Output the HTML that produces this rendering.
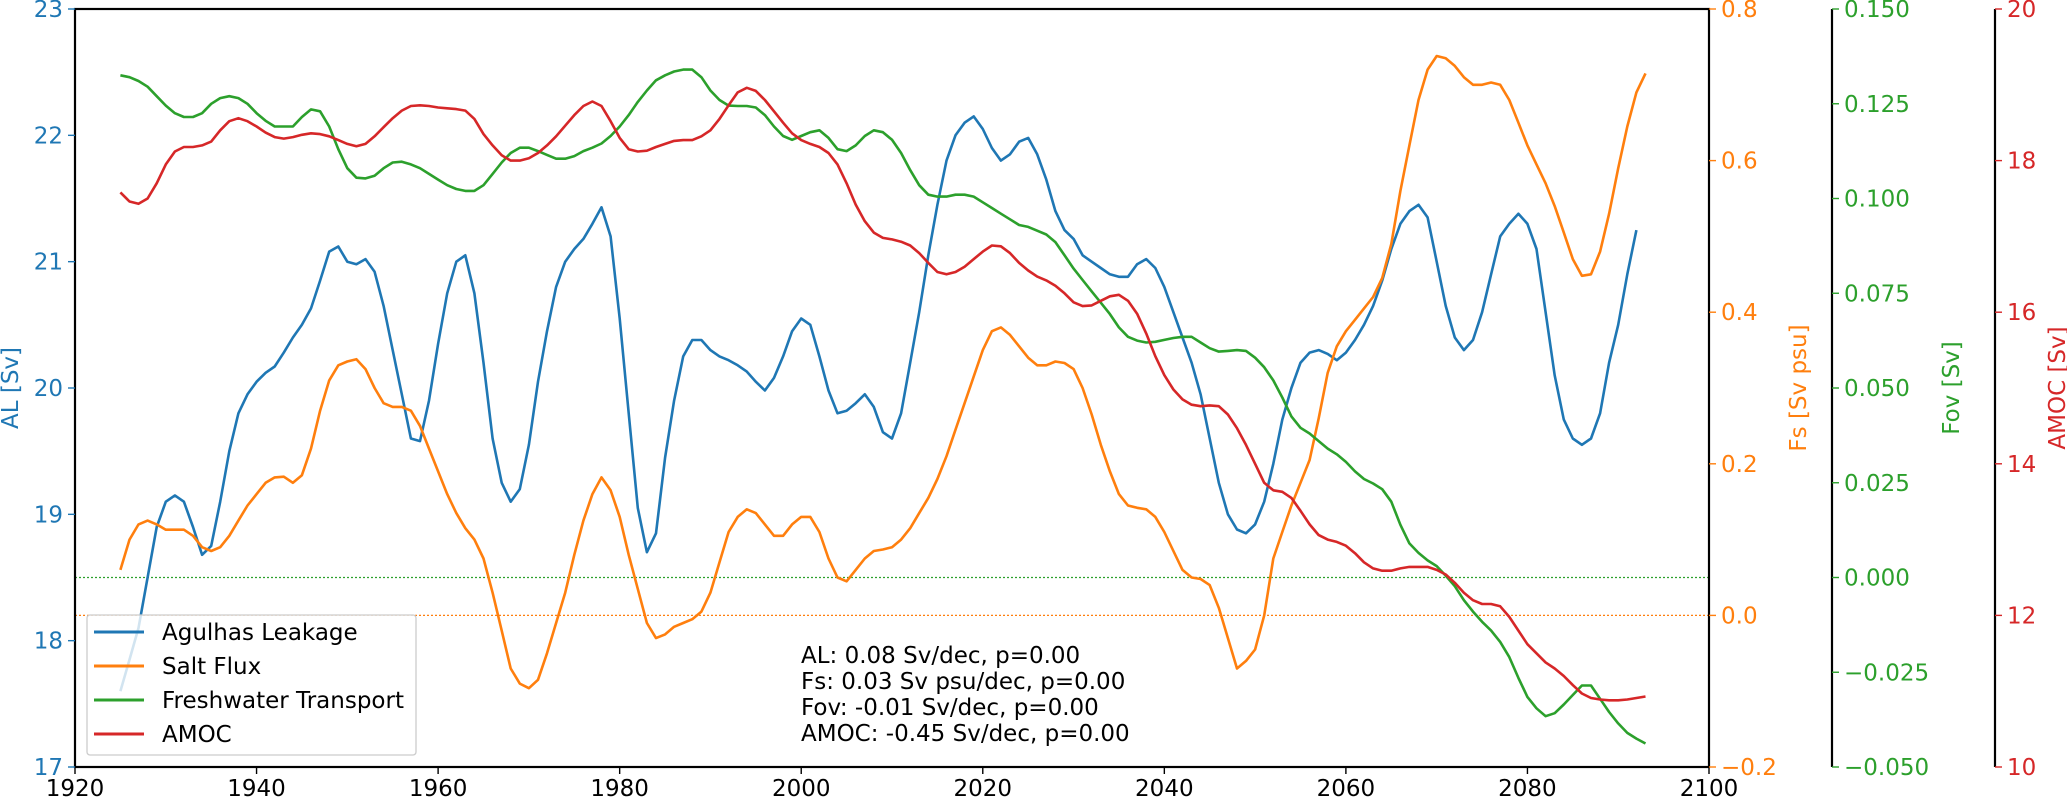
<!DOCTYPE html>
<html><head><meta charset="utf-8">
<style>
html,body{margin:0;padding:0;background:#fff;}
svg{display:block;font-family:"DejaVu Sans","Liberation Sans",sans-serif;}
</style></head>
<body>
<svg id="chart" width="2067" height="799" viewBox="0 0 2067 799" xmlns="http://www.w3.org/2000/svg"></svg>
<script>
const startYear = 1925;
const alValues = [17.6,17.85,18.1,18.5,18.9,19.1,19.15,19.1,18.9,18.68,18.75,19.1,19.5,19.8,19.95,20.05,20.12,20.17,20.28,20.4,20.5,20.63,20.85,21.08,21.12,21.0,20.98,21.02,20.92,20.65,20.3,19.95,19.6,19.58,19.9,20.35,20.75,21.0,21.05,20.75,20.2,19.6,19.25,19.1,19.2,19.55,20.05,20.45,20.8,21.0,21.1,21.18,21.3,21.43,21.2,20.55,19.8,19.05,18.7,18.85,19.45,19.9,20.25,20.38,20.38,20.3,20.25,20.22,20.18,20.13,20.05,19.98,20.08,20.25,20.45,20.55,20.5,20.25,19.98,19.8,19.82,19.88,19.95,19.85,19.65,19.6,19.8,20.2,20.6,21.05,21.45,21.8,22.0,22.1,22.15,22.05,21.9,21.8,21.85,21.95,21.98,21.85,21.65,21.4,21.25,21.18,21.05,21.0,20.95,20.9,20.88,20.88,20.98,21.02,20.95,20.8,20.6,20.4,20.2,19.95,19.6,19.25,19.0,18.88,18.85,18.92,19.1,19.4,19.75,20.0,20.2,20.28,20.3,20.27,20.22,20.28,20.38,20.5,20.65,20.85,21.1,21.3,21.4,21.45,21.35,21.0,20.65,20.4,20.3,20.38,20.6,20.9,21.2,21.3,21.38,21.3,21.1,20.6,20.1,19.75,19.6,19.55,19.6,19.8,20.2,20.5,20.9,21.25];
const fsValues = [0.06,0.1,0.12,0.125,0.12,0.113,0.113,0.113,0.105,0.09,0.085,0.09,0.105,0.125,0.145,0.16,0.175,0.182,0.183,0.175,0.185,0.22,0.27,0.31,0.33,0.335,0.338,0.325,0.3,0.28,0.275,0.275,0.27,0.25,0.22,0.19,0.16,0.135,0.115,0.1,0.075,0.03,-0.02,-0.07,-0.09,-0.096,-0.085,-0.05,-0.01,0.03,0.08,0.125,0.16,0.182,0.165,0.13,0.08,0.035,-0.01,-0.03,-0.025,-0.015,-0.01,-0.005,0.005,0.03,0.07,0.11,0.13,0.14,0.135,0.12,0.105,0.105,0.12,0.13,0.13,0.11,0.075,0.05,0.045,0.06,0.075,0.085,0.087,0.09,0.1,0.115,0.135,0.155,0.18,0.21,0.245,0.28,0.315,0.35,0.375,0.38,0.37,0.355,0.34,0.33,0.33,0.335,0.333,0.325,0.3,0.265,0.225,0.19,0.16,0.145,0.142,0.14,0.13,0.11,0.085,0.06,0.05,0.048,0.04,0.01,-0.03,-0.07,-0.06,-0.045,0.0,0.075,0.11,0.145,0.175,0.205,0.26,0.32,0.355,0.375,0.39,0.405,0.42,0.445,0.49,0.56,0.62,0.68,0.72,0.738,0.735,0.725,0.71,0.7,0.7,0.703,0.7,0.68,0.65,0.62,0.595,0.57,0.54,0.505,0.47,0.448,0.45,0.48,0.53,0.59,0.645,0.69,0.715];
const fovValues = [0.1325,0.132,0.131,0.1295,0.127,0.1245,0.1225,0.1215,0.1215,0.1225,0.125,0.1265,0.127,0.1265,0.125,0.1225,0.1205,0.119,0.119,0.119,0.1215,0.1235,0.123,0.119,0.113,0.108,0.1055,0.1053,0.106,0.108,0.1095,0.1097,0.109,0.108,0.1065,0.105,0.1035,0.1025,0.102,0.102,0.1035,0.1065,0.1095,0.112,0.1134,0.1134,0.1125,0.1115,0.1105,0.1105,0.1112,0.1125,0.1134,0.1145,0.1165,0.119,0.122,0.1255,0.1285,0.1312,0.1325,0.1335,0.134,0.134,0.132,0.1285,0.126,0.1245,0.1244,0.1244,0.124,0.122,0.119,0.1165,0.1155,0.1165,0.1175,0.118,0.116,0.113,0.1125,0.114,0.1165,0.118,0.1175,0.1155,0.112,0.1075,0.1035,0.101,0.1005,0.1005,0.101,0.101,0.1005,0.099,0.0975,0.096,0.0945,0.093,0.0925,0.0915,0.0905,0.0885,0.085,0.0815,0.0785,0.0755,0.0725,0.0695,0.066,0.0635,0.0625,0.062,0.0622,0.0627,0.0632,0.0635,0.0635,0.062,0.0605,0.0596,0.0598,0.06,0.0598,0.058,0.0555,0.052,0.0475,0.0425,0.0395,0.038,0.036,0.034,0.0325,0.0305,0.028,0.026,0.0248,0.0233,0.02,0.0139,0.009,0.0065,0.0045,0.003,0.0005,-0.0023,-0.006,-0.009,-0.0117,-0.014,-0.017,-0.021,-0.0265,-0.0315,-0.0345,-0.0366,-0.0358,-0.0335,-0.031,-0.0285,-0.0285,-0.032,-0.0355,-0.0385,-0.041,-0.0425,-0.0438];
const amocValues = [17.58,17.46,17.43,17.5,17.7,17.95,18.12,18.18,18.18,18.2,18.25,18.4,18.52,18.56,18.52,18.45,18.37,18.31,18.29,18.31,18.34,18.36,18.35,18.32,18.27,18.22,18.19,18.22,18.32,18.44,18.56,18.66,18.72,18.73,18.72,18.7,18.69,18.68,18.66,18.55,18.35,18.2,18.07,18.0,18.0,18.03,18.1,18.2,18.32,18.46,18.6,18.72,18.78,18.72,18.52,18.3,18.15,18.12,18.13,18.18,18.22,18.26,18.27,18.27,18.32,18.4,18.55,18.73,18.9,18.96,18.92,18.8,18.65,18.5,18.36,18.27,18.22,18.18,18.1,17.95,17.7,17.42,17.2,17.05,16.98,16.96,16.93,16.88,16.78,16.65,16.53,16.5,16.53,16.6,16.7,16.8,16.88,16.87,16.78,16.65,16.55,16.47,16.42,16.35,16.25,16.13,16.08,16.09,16.15,16.21,16.23,16.15,15.98,15.72,15.42,15.17,14.98,14.85,14.78,14.76,14.77,14.76,14.65,14.47,14.25,14.0,13.75,13.65,13.63,13.55,13.38,13.2,13.06,13.0,12.97,12.92,12.82,12.7,12.62,12.59,12.59,12.62,12.64,12.64,12.64,12.6,12.54,12.43,12.3,12.2,12.15,12.15,12.12,11.98,11.8,11.62,11.5,11.38,11.3,11.2,11.08,10.97,10.91,10.89,10.88,10.88,10.89,10.91,10.93];
const xTicks = [1920,1940,1960,1980,2000,2020,2040,2060,2080,2100];
const alTicks = [17,18,19,20,21,22,23];
const fsTicks = [-0.2,0.0,0.2,0.4,0.6,0.8];
const fsTickLabels = ["\u22120.2","0.0","0.2","0.4","0.6","0.8"];
const fovTicks = [-0.05,-0.025,0,0.025,0.05,0.075,0.1,0.125,0.15];
const fovTickLabels = ["\u22120.050","\u22120.025","0.000","0.025","0.050","0.075","0.100","0.125","0.150"];
const amocTicks = [10,12,14,16,18,20];
const statLines = ["AL: 0.08 Sv/dec, p=0.00","Fs: 0.03 Sv psu/dec, p=0.00","Fov: -0.01 Sv/dec, p=0.00","AMOC: -0.45 Sv/dec, p=0.00"];
const legendLabels = ["Agulhas Leakage","Salt Flux","Freshwater Transport","AMOC"];

const C_BLUE="#1f77b4", C_OR="#ff7f0e", C_GR="#2ca02c", C_RED="#d62728";
const X0=75, X1=1709, Y0=9, Y1=767;
const FOVX=1832, AMX=1995;
const FS=23;
const svg=document.getElementById('chart');
const NS="http://www.w3.org/2000/svg";
function mk(tag,attrs,parent){const e=document.createElementNS(NS,tag);for(const k in attrs)e.setAttribute(k,attrs[k]);(parent||svg).appendChild(e);return e;}
const xs=y=>X0+(y-1920)/(180)*(X1-X0);
const yAL=v=>Y1-(v-17)/6*(Y1-Y0);
const yFS=v=>Y1-(v+0.2)/1.0*(Y1-Y0);
const yFOV=v=>Y1-(v+0.05)/0.2*(Y1-Y0);
const yAM=v=>Y1-(v-10)/10*(Y1-Y0);

let z1=mk('line',{x1:X0,x2:X1,y1:yFOV(0),y2:yFOV(0),stroke:C_GR,'stroke-width':1.3,'stroke-dasharray':'2,2'});


let z2=mk('line',{x1:X0,x2:X1,y1:yFS(0),y2:yFS(0),stroke:C_OR,'stroke-width':1.3,'stroke-dasharray':'2,2'});



function series(vals,yf,color,name){
  const pts=vals.map((v,i)=>xs(startYear+i).toFixed(1)+','+yf(v).toFixed(1)).join(' ');
  const p=mk('polyline',{points:pts,fill:'none',stroke:color,'stroke-width':2.6,'stroke-linejoin':'round'});
  
  
}
series(alValues,yAL,C_BLUE,'al-line');
series(fsValues,yFS,C_OR,'fs-line');
series(fovValues,yFOV,C_GR,'fov-line');
series(amocValues,yAM,C_RED,'amoc-line');

const fr=mk('rect',{x:X0,y:Y0,width:X1-X0,height:Y1-Y0,fill:'none',stroke:'#000','stroke-width':2.2});


for(const sx of [FOVX,AMX]){
  const s=mk('line',{x1:sx,x2:sx,y1:Y0,y2:Y1,stroke:'#000','stroke-width':2.2});
  
  
}
function txt(x,y,s,attrs,name){
  const t=mk('text',Object.assign({x:x,y:y,'font-size':FS},attrs));
  t.textContent=s;
  
  
  return t;
}
xTicks.forEach(v=>{
  mk('line',{x1:xs(v),x2:xs(v),y1:Y1,y2:Y1+7,stroke:'#000','stroke-width':1.4});
  txt(xs(v),796,String(v),{'text-anchor':'middle',fill:'#000'},'x-tick-label');
});
alTicks.forEach(v=>{
  mk('line',{x1:X0-7,x2:X0,y1:yAL(v),y2:yAL(v),stroke:C_BLUE,'stroke-width':1.4});
  txt(X0-12,yAL(v)+8,String(v),{'text-anchor':'end',fill:C_BLUE},'al-tick-label');
});
fsTicks.forEach((v,i)=>{
  mk('line',{x1:X1,x2:X1+7,y1:yFS(v),y2:yFS(v),stroke:C_OR,'stroke-width':1.4});
  txt(X1+12,yFS(v)+8,fsTickLabels[i],{fill:C_OR},'fs-tick-label');
});
fovTicks.forEach((v,i)=>{
  mk('line',{x1:FOVX,x2:FOVX+7,y1:yFOV(v),y2:yFOV(v),stroke:C_GR,'stroke-width':1.4});
  txt(FOVX+12,yFOV(v)+8,fovTickLabels[i],{fill:C_GR},'fov-tick-label');
});
amocTicks.forEach(v=>{
  mk('line',{x1:AMX,x2:AMX+7,y1:yAM(v),y2:yAM(v),stroke:C_RED,'stroke-width':1.4});
  txt(AMX+12,yAM(v)+8,String(v),{fill:C_RED},'amoc-tick-label');
});
txt(0,0,'AL [Sv]',{transform:'translate(18,388) rotate(-90)','text-anchor':'middle',fill:C_BLUE},'al-axis-title');
txt(0,0,'Fs [Sv psu]',{transform:'translate(1806,388) rotate(-90)','text-anchor':'middle',fill:C_OR},'fs-axis-title');
txt(0,0,'Fov [Sv]',{transform:'translate(1959,388) rotate(-90)','text-anchor':'middle',fill:C_GR},'fov-axis-title');
txt(0,0,'AMOC [Sv]',{transform:'translate(2065,388) rotate(-90)','text-anchor':'middle',fill:C_RED},'amoc-axis-title');

const lg=mk('g',{});


mk('rect',{x:87,y:615,width:329,height:140,rx:3,fill:'#fff','fill-opacity':0.8,stroke:'#ccc','stroke-width':1.3},lg);
const lcols=[C_BLUE,C_OR,C_GR,C_RED];
legendLabels.forEach((s,i)=>{
  const y=632+i*34;
  const l=mk('line',{x1:94,x2:144,y1:y,y2:y,stroke:lcols[i],'stroke-width':3},lg);
  
  
  const t=mk('text',{x:162,y:y+8,'font-size':FS,fill:'#000'},lg);
  t.textContent=s;
  
  
});
statLines.forEach((s,i)=>{
  txt(801,663+i*26,s,{fill:'#000'},'trend-stat');
});
</script>
</body></html>
